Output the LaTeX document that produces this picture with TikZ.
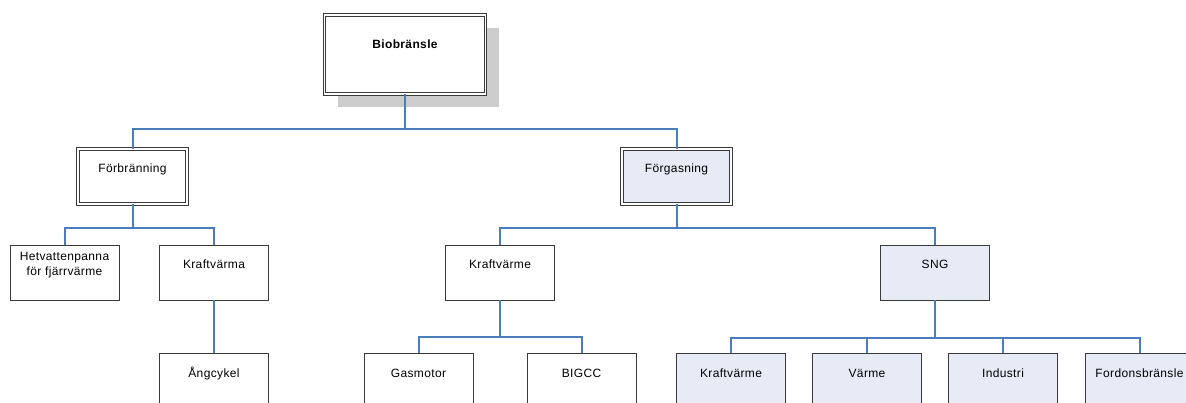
\documentclass[tikz,border=0pt]{standalone}
\usepackage{fontspec}
\setmainfont{Liberation Sans}[LetterSpace=3]
\usepackage{tikz}
\usepackage{xcolor}
\usetikzlibrary{shadows}
\definecolor{linkblue}{HTML}{4A7EBB}
\definecolor{paleblue}{HTML}{E6EBF5}
\definecolor{boxgray}{HTML}{3A3A3A}
\tikzset{
    box/.style={draw=boxgray, line width=0.8pt, fill=white, inner sep=0pt,
        minimum width=109pt, text height=24pt, text depth=31pt, align=center,
        font=\fontsize{12}{14}\selectfont},
    topbox/.style={box, double, double distance=1.6pt},
    blue/.style={fill=paleblue},
    link/.style={draw=linkblue, line width=2pt}
}

\begin{document}
\begin{tikzpicture}[x=1pt, y=-1pt]
    \path[use as bounding box, clip] (0,0) rectangle (1186,403);

    % root
    \node[topbox, minimum width=161pt, text height=34pt, text depth=45pt,
          font=\fontsize{12}{14}\selectfont\bfseries,
          drop shadow={shadow xshift=13pt, shadow yshift=-13pt, fill=black!20, opacity=1}]
          (bio) at (405,54.5) {Biobränsle};

    % level 2
    \node[topbox] (forb) at (132.5,176.5) {Förbränning};
    \node[topbox, blue] (forg) at (676.5,176.5) {Förgasning};

    % level 3
    \node[box, text height=31pt, text depth=24pt, font=\fontsize{12}{15}\selectfont]
          (hetv) at (64.5,272.5) {Hetvattenpanna\\för fjärrvärme};
    \node[box] (kvma) at (214,272.5) {Kraftvärma};
    \node[box] (kvme) at (500,272.5) {Kraftvärme};
    \node[box, blue] (sng) at (935,272.5) {SNG};

    % level 4
    \node[box] (ang) at (214,380.5) {Ångcykel};
    \node[box] (gas) at (418.5,380.5) {Gasmotor};
    \node[box] (bigcc) at (581.5,380.5) {BIGCC};
    \node[box, blue] (skv) at (731,380.5) {Kraftvärme};
    \node[box, blue] (svm) at (867,380.5) {Värme};
    \node[box, blue] (sind) at (1003,380.5) {Industri};
    \node[box, blue] (sfor) at (1139.5,380.5) {Fordonsbränsle};

    % connectors
    \draw[link] (bio.south) -- ++(0,35) -| (forb.north);
    \draw[link] (bio.south) -- ++(0,35) -| (forg.north);
    \draw[link] (forb.south) -- ++(0,24) -| (hetv.north);
    \draw[link] (forb.south) -- ++(0,24) -| (kvma.north);
    \draw[link] (kvma.south) -- (ang.north);
    \draw[link] (forg.south) -- ++(0,24) -| (kvme.north);
    \draw[link] (forg.south) -- ++(0,24) -| (sng.north);
    \draw[link] (kvme.south) -- ++(0,37) -| (gas.north);
    \draw[link] (kvme.south) -- ++(0,37) -| (bigcc.north);
    \foreach \n in {skv,svm,sind,sfor}
        \draw[link] (sng.south) -- ++(0,38) -| (\n.north);
\end{tikzpicture}
\end{document}
